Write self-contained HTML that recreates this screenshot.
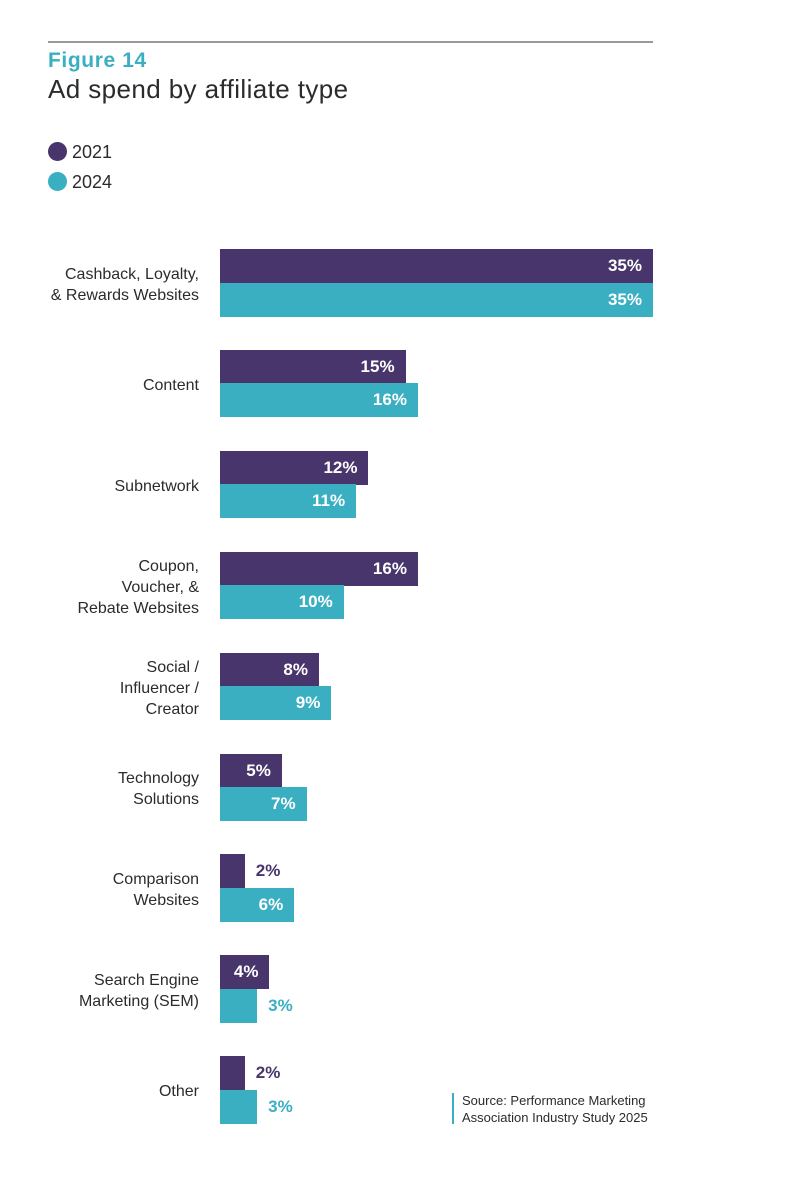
<!DOCTYPE html>
<html><head><meta charset="utf-8">
<style>
body{margin:0;background:#fff;width:799px;height:1185px;position:relative;overflow:hidden;font-family:"Liberation Sans",sans-serif;color:#2d2a2e}
.abs{position:absolute}
.cat{position:absolute;right:600px;text-align:right;font-size:16px;line-height:21px;color:#2d2a2e}
.bar{position:absolute;height:34px}
.val{position:absolute;font-weight:bold;font-size:17px;line-height:34px}
</style></head><body>
<div class="abs" style="left:48px;top:41px;width:605px;height:2px;background:#999"></div>
<div class="abs" style="left:48px;top:49px;font-size:21px;font-weight:bold;letter-spacing:0.6px;color:#3aafc2">Figure 14</div>
<div class="abs" style="left:48px;top:74px;font-size:26px;letter-spacing:0.4px;color:#2d2a2e">Ad spend by affiliate type</div>
<div class="abs" style="left:48px;top:142px;font-size:18px;line-height:20px"><span style="display:inline-block;width:19px;height:19px;border-radius:50%;background:#47356b;vertical-align:-3px;margin-right:5px"></span>2021</div>
<div class="abs" style="left:48px;top:172px;font-size:18px;line-height:20px"><span style="display:inline-block;width:19px;height:19px;border-radius:50%;background:#3aafc2;vertical-align:-3px;margin-right:5px"></span>2024</div>
<div id="chart"></div>
<div class="abs" style="left:452px;top:1093px;width:2px;height:31px;background:#3aafc2"></div>
<div class="abs" style="left:462px;top:1092px;font-size:13px;line-height:17px;color:#2d2a2e">Source: Performance Marketing<br>Association Industry Study 2025</div>
<script>
const categories=[["Cashback, Loyalty,","& Rewards Websites"],["Content"],["Subnetwork"],["Coupon,","Voucher, &","Rebate Websites"],["Social /","Influencer /","Creator"],["Technology","Solutions"],["Comparison","Websites"],["Search Engine","Marketing (SEM)"],["Other"]];
const values2021=[35,15,12,16,8,5,2,4,2];
const values2024=[35,16,11,10,9,7,6,3,3];
const colors=["#47356b","#3aafc2"];
const x0=220,pxPer=433/35,top0=249,step=100.9,bh=33.5;
const c=document.getElementById('chart');
categories.forEach((cat,i)=>{
  const gy=top0+i*step;
  const lab=document.createElement('div');
  lab.className='cat';
  
  
  lab.innerHTML=cat.join('<br>');
  lab.style.top=(gy+bh-cat.length*21/2+2)+'px';
  c.appendChild(lab);
  [values2021,values2024].forEach((arr,s)=>{
    const v=arr[i],w=v*pxPer,y=gy+s*bh;
    const b=document.createElement('div');
    b.className='bar';
    
    
    b.style.cssText+=`left:${x0}px;top:${y}px;width:${w}px;background:${colors[s]}`;
    c.appendChild(b);
    const t=document.createElement('div');
    t.className='val';
    
    
    t.textContent=v+'%';
    t.style.top=y+'px';
    if(v>=4){t.style.right=(799-(x0+w)+11)+'px';t.style.color='#fff';}
    else{t.style.left=(x0+w+11)+'px';t.style.color=colors[s];}
    c.appendChild(t);
  });
});
</script>
</body></html>
